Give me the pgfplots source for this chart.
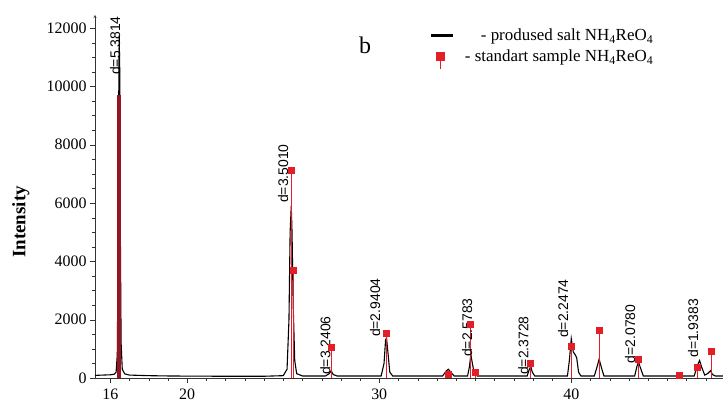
\documentclass[border=0pt]{standalone}
\usepackage{fontspec}
\setmainfont{Liberation Serif}
\newfontfamily\sansf{Liberation Sans}
\usepackage{pgfplots}
\pgfplotsset{compat=1.18}
\definecolor{stdred}{RGB}{228,30,40}
\definecolor{barred}{RGB}{150,20,35}

\begin{document}
\begin{tikzpicture}
\useasboundingbox (-95bp,-35bp) rectangle (628bp,378bp);
\begin{axis}[
    scale only axis,
    width=628bp, height=363bp,
    xmin=15.2, xmax=47.9,
    ymin=0, ymax=12450,
    axis x line=bottom, axis y line=left,
    x axis line style={-},
    y axis line style={-stealth},
    axis line style={black!80},
    xtick={16,20,30,40},
    minor xtick={15,...,47},
    ytick={0,2000,...,12000},
    minor y tick num=3,
    scaled y ticks=false,
    tick align=outside,
    major tick length=5bp, minor tick length=3bp,
    tick style={black!80},
    /pgf/number format/assume math mode=true,
    /pgf/number format/1000 sep={},
    ticklabel style={font=\fontsize{16}{16}\selectfont},
    xticklabel style={yshift=-2bp},
    ylabel={\bfseries Intensity},
    ylabel style={at={(axis description cs:-0.118,0.43)}, anchor=center,
                  font=\fontsize{19}{19}\selectfont},
    legend style={draw=none, fill=none, at={(axis description cs:0.533,0.968)}, anchor=north west,
                  font=\fontsize{17}{17}\selectfont, row sep=4bp, column sep=8bp, inner sep=0pt},
    legend cell align=right,
    clip=false,
]
% produced salt profile
\addplot[black, line width=1.1bp, forget plot] coordinates {
 (15.2,90) (15.6,100) (16.0,110) (16.2,130) (16.3,200) (16.36,800) (16.40,4000)
 (16.43,9000) (16.46,11750) (16.49,10500) (16.52,5000) (16.56,1200) (16.62,300)
 (16.75,140) (17.0,100) (18,80) (19,70) (20,65) (22,60) (24,60) (25.0,80)
 (25.2,300) (25.3,2000) (25.36,5000) (25.42,5900) (25.46,5000) (25.52,2500)
 (25.6,600) (25.7,150) (26,70) (27.2,70) (27.4,150) (27.5,250) (27.6,120)
 (27.8,70) (30.1,70) (30.25,500) (30.33,1300) (30.38,1370) (30.45,900)
 (30.55,200) (30.7,70) (33.3,70) (33.5,250) (33.6,300) (33.7,220) (33.9,70)
 (34.6,70) (34.7,400) (34.77,800) (34.85,500) (34.95,150) (35.1,70) (37.7,70)
 (37.82,300) (37.89,400) (37.97,200) (38.1,70) (39.8,70) (39.9,600) (40.0,1350)
 (40.1,900) (40.2,800) (40.28,700) (40.38,200) (40.5,70) (41.2,70) (41.35,400)
 (41.45,650) (41.55,400) (41.7,70) (43.3,70) (43.42,400) (43.5,550) (43.6,350)
 (43.75,70) (46.4,70) (46.55,400) (46.68,600) (46.8,350) (46.95,100) (47.1,150)
 (47.25,250) (47.35,120) (47.5,70) (47.9,70)
};
% standard sample sticks
\addplot[ycomb, barred, line width=4bp, no markers, forget plot] coordinates {(16.46,9700)};
\addplot[ycomb, stdred, line width=0.7bp, forget plot,
         mark=square*, mark size=3bp, mark options={fill=stdred, draw=stdred}] coordinates {
 (25.42,7120) (25.55,3700) (27.5,1060) (30.37,1540) (33.6,120) (34.77,1850)
 (35.0,200) (37.89,510) (40.0,1100) (41.45,1620) (43.5,650) (45.65,100)
 (46.55,380) (47.3,900)
};
% legend
\addlegendimage{legend image code/.code={\draw[black, line width=3bp] (0bp,0bp) -- (22bp,0bp);}}
\addlegendentry{- prodused salt NH\textsubscript{4}ReO\textsubscript{4}}
\addlegendimage{legend image code/.code={
   \draw[stdred, line width=1.2bp] (9bp,-12bp) -- (9bp,0bp);
   \fill[stdred] (5bp,-4bp) rectangle (13bp,4bp);
   \path[draw=none] (0bp,0bp) -- (22bp,0bp);}}
\addlegendentry{- standart sample NH\textsubscript{4}ReO\textsubscript{4}}
% annotations
\node[font=\fontsize{24}{24}\selectfont] at (axis cs:29.27,11415) {b};
\begin{scope}[every node/.style={rotate=90, anchor=west, inner sep=0pt,
                                  font=\sansf\fontsize{14}{14}\selectfont}]
\node at (axis cs:16.25,10390) {d=5.3814};
\node at (axis cs:25.0,6000) {d=3.5010};
\node at (axis cs:27.19,100) {d=3.2406};
\node at (axis cs:29.79,1400) {d=2.9404};
\node at (axis cs:34.58,720) {d=2.5783};
\node at (axis cs:37.5,100) {d=2.3728};
\node at (axis cs:39.58,1370) {d=2.2474};
\node at (axis cs:43.07,500) {d=2.0780};
\node at (axis cs:46.35,690) {d=1.9383};
\end{scope}
\end{axis}
\end{tikzpicture}
\end{document}
